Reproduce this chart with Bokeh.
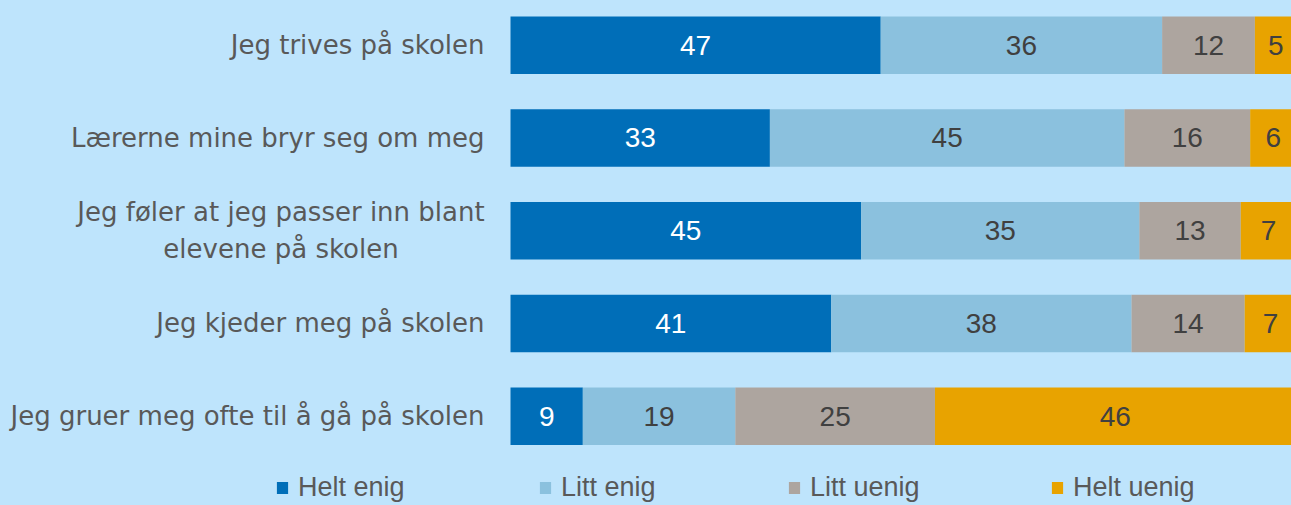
from bokeh.plotting import figure
from bokeh.models import Range1d, ColumnDataSource, Legend, LegendItem
from bokeh.core.properties import value
from bokeh.embed import file_html
from bokeh.resources import INLINE

categories = [
    "Jeg trives på skolen",
    "Lærerne mine bryr seg om meg",
    "Jeg føler at jeg passer inn blant\nelevene på skolen",
    "Jeg kjeder meg på skolen",
    "Jeg gruer meg ofte til å gå på skolen",
]
series = ["Helt enig", "Litt enig", "Litt uenig", "Helt uenig"]
helt_enig = [47.1, 33.0, 44.6, 40.8, 9.2]
litt_enig = [35.8, 45.1, 35.4, 38.2, 19.4]
litt_uenig = [11.8, 16.0, 12.9, 14.4, 25.4]
helt_uenig = [5.3, 5.9, 7.1, 6.6, 45.9]

colors = ["#006EB8", "#8BC1DE", "#ADA59F", "#E8A300"]
label_colors = ["#FFFFFF", "#404040", "#404040", "#404040"]
BG = "#BEE4FC"
NUM_FONT = "Liberation Sans"
CAT_FONT = "DejaVu Sans"

n = len(categories)
ys = [n - 1 - i for i in range(n)]

p = figure(width=1291, height=505, output_backend="svg", toolbar_location=None,
           x_range=Range1d(-64.885, 99.36), y_range=Range1d(-0.963, 4.482),
           min_border_left=0, min_border_right=0, min_border_top=0, min_border_bottom=0)
p.background_fill_color = BG
p.border_fill_color = BG
p.outline_line_color = None
p.xgrid.visible = False
p.ygrid.visible = False
p.xaxis.visible = False
p.yaxis.visible = False

# category labels (left of bars); the two-line label is centred like the original
cat_src = ColumnDataSource(dict(
    y=ys, x=[0] * n, text=categories,
    align=["center" if "\n" in c else "right" for c in categories],
    xoff=[-229.5 if "\n" in c else -26 for c in categories],
))
p.text(x="x", y="y", text="text", source=cat_src, x_offset="xoff",
       text_align="align", text_baseline="middle", text_color="#595959",
       text_font=value(CAT_FONT), text_font_size="26px", text_line_height=1.25)

all_vals = [helt_enig, litt_enig, litt_uenig, helt_uenig]
left = [0.0] * n
bar_renderers = []
for name, vals, col, lcol in zip(series, all_vals, colors, label_colors):
    right = [l + v for l, v in zip(left, vals)]
    src = ColumnDataSource(dict(y=ys, left=left, right=right,
                                xc=[(l + r) / 2 for l, r in zip(left, right)],
                                lab=[str(int(round(v))) for v in vals]))
    r = p.hbar(y="y", left="left", right="right", height=0.62, source=src,
               fill_color=col, line_color=None)
    p.text(x="xc", y="y", text="lab", source=src, text_align="center",
           text_baseline="middle", text_color=lcol, text_font=value(NUM_FONT),
           text_font_size="28px")
    bar_renderers.append(r)
    left = right

legend_x = [275, 538, 787, 1050]
for name, r, lx in zip(series, bar_renderers, legend_x):
    lg = Legend(items=[LegendItem(label=name, renderers=[r])], orientation="horizontal",
                location=(lx, 2), glyph_width=14, glyph_height=15, label_standoff=9,
                padding=0, margin=0, border_line_color=None,
                background_fill_alpha=0, label_text_font=NUM_FONT,
                label_text_font_size="27px", label_text_color="#595959")
    p.add_layout(lg, "center")

html = file_html(p, INLINE)
html = html.replace("<head>", "<head><style>html,body{background:%s;}</style>" % BG, 1)
open("out.html", "w").write(html)
